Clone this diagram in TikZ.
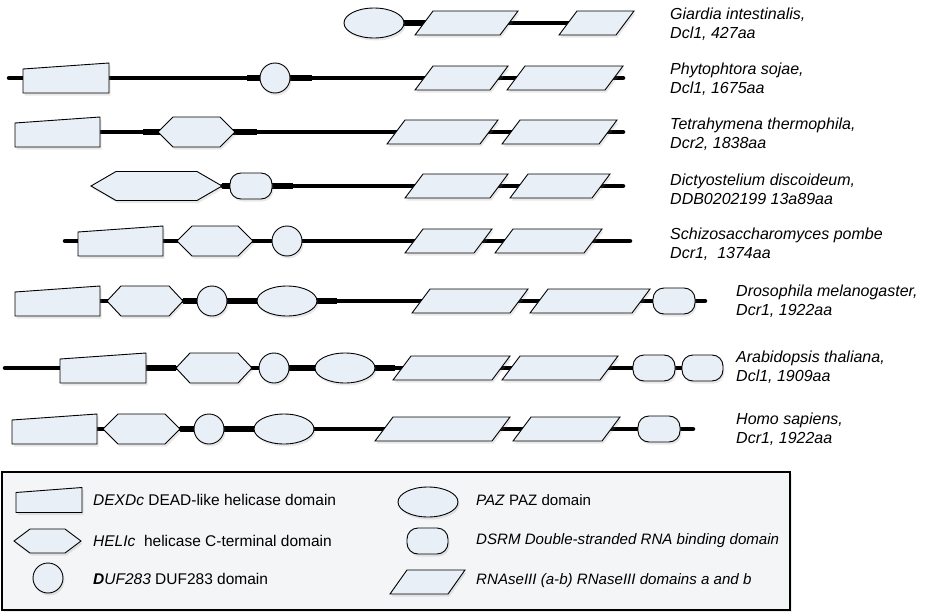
\documentclass[tikz,border=0pt]{standalone}
\usepackage{fontspec}
\setmainfont{Liberation Sans}
\usetikzlibrary{shadows}
\definecolor{domfill}{HTML}{E9EFF7}
\definecolor{legbg}{HTML}{F4F5F7}
\tikzset{
  dom/.style={draw=black, line width=0.9pt, fill=domfill,
    drop shadow={opacity=0.18, shadow xshift=1.5pt, shadow yshift=-2.5pt}},
  backbone/.style={line width=4.5pt, line cap=round},
  thickseg/.style={line width=6pt},
  orglabel/.style={anchor=west, align=left, inner sep=0pt,
    font=\fontsize{16}{19}\selectfont\itshape},
  legtext/.style={anchor=west, inner sep=0pt, font=\fontsize{15.5}{18}\selectfont},
  legtextr/.style={anchor=west, inner sep=0pt, font=\fontsize{15.1}{18}\selectfont},
}
% DEXDc trapezoid: left x, right x, centre y, half height
\newcommand{\dexdbox}[4]{\draw[dom] (#1,{#3+#4}) -- (#2,{#3+#4}) -- (#2,{#3-#4}) -- (#1,{#3-0.6*#4}) -- cycle;}
% HELIc hexagon: left x, right x, centre y, inset, half height
\newcommand{\helicbox}[5]{\draw[dom] (#1,#3) -- ({#1+#4},{#3-#5}) -- ({#2-#4},{#3-#5}) -- (#2,#3) -- ({#2-#4},{#3+#5}) -- ({#1+#4},{#3+#5}) -- cycle;}
% DUF283 circle: centre x, centre y
\newcommand{\dufcirc}[2]{\draw[dom] (#1,#2) circle[radius=15pt];}
% PAZ ellipse: centre x, centre y
\newcommand{\pazell}[2]{\draw[dom] (#1,#2) ellipse[x radius=30pt, y radius=15pt];}
% DSRM rounded box: left x, right x, centre y
\newcommand{\dsrmbox}[3]{\draw[dom, rounded corners=11pt] (#1,{#3-13}) rectangle (#2,{#3+13});}
% RNaseIII parallelogram: bottom-left x, width, centre y
\newcommand{\rnasebox}[3]{\draw[dom] (#1,{#3+12}) -- ({#1+#2},{#3+12}) -- ({#1+#2+18},{#3-12}) -- ({#1+18},{#3-12}) -- cycle;}
\begin{document}
\begin{tikzpicture}[x=1pt, y=-1pt]
\useasboundingbox (0,0) rectangle (930,613);

% ---------- Row 1: Giardia ----------
\coordinate (a1) at (404,23); \coordinate (b1) at (570,23);
\draw[backbone, line cap=butt] (a1) -- (b1);
\draw[thickseg] (404,23) -- (426,23);
\pazell{374}{23}
\rnasebox{415}{85}{23}
\rnasebox{559}{57}{23}
\node[orglabel] (l1) at (670,24) {Giardia intestinalis,\\Dcl1, 427aa};

% ---------- Row 2: Phytophtora ----------
\coordinate (a2) at (9,78); \coordinate (b2) at (623,78);
\draw[backbone] (a2) -- (b2);
\draw[thickseg] (247,78) -- (312,78);
\dexdbox{23}{109}{78}{15}
\dufcirc{275}{78}
\rnasebox{415}{75}{78}
\rnasebox{507}{98}{78}
\node[orglabel] (l2) at (670,79) {Phytophtora sojae,\\Dcl1, 1675aa};

% ---------- Row 3: Tetrahymena ----------
\coordinate (a3) at (100,132); \coordinate (b3) at (623,132);
\draw[backbone] (a3) -- (b3);
\draw[thickseg] (143,132) -- (257,132);
\dexdbox{15}{100}{132}{15}
\helicbox{158}{235}{132}{15}{15}
\rnasebox{387}{93}{132}
\rnasebox{502}{97}{132}
\node[orglabel] (l3) at (670,134) {Tetrahymena thermophila,\\Dcr2, 1838aa};

% ---------- Row 4: Dictyostelium ----------
\coordinate (a4) at (222,186); \coordinate (b4) at (623,186);
\draw[backbone] (a4) -- (b4);
\draw[thickseg] (222,186) -- (293,186);
\helicbox{91}{222}{186}{25}{14.5}
\dsrmbox{230}{272}{186}
\rnasebox{405}{85}{186}
\rnasebox{510}{82}{186}
\node[orglabel] (l4) at (670,189) {Dictyostelium discoideum,\\DDB0202199 13a89aa};

% ---------- Row 5: Schizosaccharomyces ----------
\coordinate (a5) at (65,241); \coordinate (b5) at (630,241);
\draw[backbone] (a5) -- (b5);
\dexdbox{78}{163}{241}{15}
\helicbox{177}{253}{241}{15}{15}
\dufcirc{287}{241}
\rnasebox{405}{69}{241}
\rnasebox{495}{89}{241}
\node[orglabel] (l5) at (670,244) {Schizosaccharomyces pombe\\Dcr1,\ \ 1374aa};

% ---------- Row 6: Drosophila ----------
\coordinate (a6) at (100,301); \coordinate (b6) at (705,301);
\draw[backbone] (a6) -- (b6);
\draw[thickseg] (183,301) -- (337,301);
\dexdbox{15}{100}{301}{15}
\helicbox{107}{183}{301}{14}{15}
\dufcirc{212}{301}
\pazell{287}{301}
\rnasebox{412}{98}{301}
\rnasebox{530}{102}{301}
\dsrmbox{653}{695}{301}
\node[orglabel] (l6) at (736,301) {Drosophila melanogaster,\\Dcr1, 1922aa};

% ---------- Row 7: Arabidopsis ----------
\coordinate (a7) at (5,368); \coordinate (b7) at (700,368);
\draw[backbone] (a7) -- (b7);
\draw[thickseg] (146,368) -- (176,368);
\draw[thickseg] (289,368) -- (395,368);
\dexdbox{60}{146}{368}{15}
\helicbox{176}{252}{368}{14}{15}
\dufcirc{274}{368}
\pazell{345}{368}
\rnasebox{393}{99}{368}
\rnasebox{502}{98}{368}
\dsrmbox{633}{675}{368}
\dsrmbox{682}{723}{368}
\node[orglabel] (l7) at (736,367) {Arabidopsis thaliana,\\Dcl1, 1909aa};

% ---------- Row 8: Homo sapiens ----------
\coordinate (a8) at (97,429); \coordinate (b8) at (693,429);
\draw[backbone] (a8) -- (b8);
\draw[thickseg] (180,429) -- (254,429);
\dexdbox{12}{97}{429}{15}
\helicbox{103}{180}{429}{15}{15}
\dufcirc{209}{429}
\pazell{284}{429}
\rnasebox{375}{117}{429}
\rnasebox{513}{89}{429}
\dsrmbox{638}{680}{429}
\node[orglabel] (l8) at (736,429) {Homo sapiens,\\Dcr1, 1922aa};

% ---------- Legend ----------
\draw[line width=1.5pt, fill=legbg, drop shadow={opacity=0.15, shadow xshift=2pt, shadow yshift=-2pt}] (2,472) rectangle (790,610);
\dexdbox{16}{82}{500}{12.5}
\node[legtext] (t1) at (93,500) {\textit{DEXDc} DEAD-like helicase domain};
\helicbox{14}{81}{541}{16}{12}
\node[legtext] (t2) at (93,541) {\textit{HELIc}\ \ helicase C-terminal domain};
\dufcirc{48}{578}
\node[legtext] (t3) at (93,579) {\textit{\textbf{D}UF283} DUF283 domain};
\pazell{428}{502}
\node[legtextr] (t4) at (476,500) {\textit{PAZ} PAZ domain};
\dsrmbox{407}{448}{541}
\node[legtextr] (t5) at (476,541) {\textit{DSRM Double-stranded RNA binding domain}};
\draw[dom] (390,594) -- (448,594) -- (465,570) -- (407,570) -- cycle;
\node[legtextr] (t6) at (476,581) {\textit{RNAseIII (a-b) RNaseIII domains a and b}};
\end{tikzpicture}
\end{document}
